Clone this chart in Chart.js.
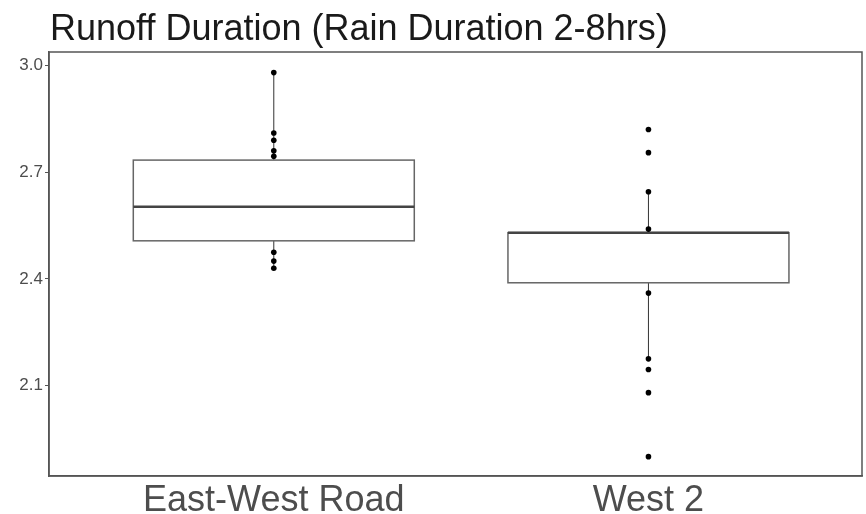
<!DOCTYPE html>
<html>
<head>
<meta charset="utf-8">
<script src="https://cdn.jsdelivr.net/npm/chart.js"></script>
<style>
html, body { margin: 0; padding: 0; background: #fff; }
</style>
</head>
<body>
<canvas id="myChart" width="866" height="514"></canvas>
<script>
const categories = ['East-West Road', 'West 2'];
const yTicks = [2.1, 2.4, 2.7, 3.0];

// raw points per group
const ewPoints = [2.98, 2.81, 2.79, 2.76, 2.745, 2.475, 2.45, 2.43];
const w2Points = [2.82, 2.755, 2.645, 2.54, 2.36, 2.175, 2.145, 2.08, 1.90];

// box stats per group
const whiskerLow = [2.43, 2.175];
const q1 = [2.507, 2.389];
const median = [2.603, 2.530];
const q3 = [2.734, 2.530];
const whiskerHigh = [2.98, 2.645];

const ctx = document.getElementById('myChart');

const boxPlugin = {
  id: 'boxes',
  beforeDatasetsDraw(chart) {
    const c = chart.ctx;
    const xs = chart.scales.x, ys = chart.scales.y;
    categories.forEach((cat, i) => {
      const xc = xs.getPixelForValue(i + 1);
      const half = (xs.getPixelForValue(1.375) - xs.getPixelForValue(1));
      c.save();
      // whiskers
      c.strokeStyle = '#333';
      c.lineWidth = 1;
      c.beginPath();
      c.moveTo(xc, ys.getPixelForValue(whiskerHigh[i]));
      c.lineTo(xc, ys.getPixelForValue(q3[i]));
      c.moveTo(xc, ys.getPixelForValue(q1[i]));
      c.lineTo(xc, ys.getPixelForValue(whiskerLow[i]));
      c.stroke();
      // box
      const top = ys.getPixelForValue(q3[i]);
      const bot = ys.getPixelForValue(q1[i]);
      c.fillStyle = '#fff';
      c.fillRect(xc - half, top, half * 2, bot - top);
      c.strokeStyle = '#666';
      c.lineWidth = 1.5;
      c.strokeRect(xc - half, top, half * 2, bot - top);
      // median
      c.strokeStyle = '#444';
      c.lineWidth = 2.5;
      c.beginPath();
      c.moveTo(xc - half, ys.getPixelForValue(median[i]));
      c.lineTo(xc + half, ys.getPixelForValue(median[i]));
      c.stroke();
      c.restore();
    });
  },
  afterDraw(chart) {
    const c = chart.ctx;
    const a = chart.chartArea;
    c.save();
    c.strokeStyle = '#555';
    c.lineWidth = 1.5;
    c.strokeRect(a.left, a.top, a.right - a.left, a.bottom - a.top);
    c.fillStyle = '#1a1a1a';
    c.font = '36px "Liberation Sans", Arial, sans-serif';
    c.textBaseline = 'alphabetic';
    c.fillText('Runoff Duration (Rain Duration 2-8hrs)', 50, 40);
    c.restore();
  }
};

new Chart(ctx, {
  type: 'scatter',
  data: {
    datasets: [
      { label: categories[0], data: ewPoints.map(v => ({ x: 1, y: v })) },
      { label: categories[1], data: w2Points.map(v => ({ x: 2, y: v })) }
    ]
  },
  options: {
    responsive: false,
    animation: false,
    layout: { padding: { top: 52, right: 4, left: 0, bottom: 0 } },
    elements: {
      point: { radius: 2.8, backgroundColor: '#000', borderColor: '#000', borderWidth: 0 }
    },
    plugins: {
      legend: { display: false },
      tooltip: { enabled: false }
    },
    scales: {
      x: {
        type: 'linear',
        min: 0.4,
        max: 2.57,
        afterBuildTicks: s => { s.ticks = categories.map((c, i) => ({ value: i + 1 })); },
        afterFit: s => { s.height = 38; },
        ticks: {
          callback: v => categories[v - 1],
          font: { family: '"Liberation Sans", Arial, sans-serif', size: 36, lineHeight: 1 },
          color: '#4d4d4d',
          padding: -1,
          maxRotation: 0
        },
        grid: { display: false },
        border: { display: true, color: '#555', width: 1.5 }
      },
      y: {
        min: 1.8456,
        max: 3.038,
        afterBuildTicks: s => { s.ticks = yTicks.map(v => ({ value: v })); },
        afterFit: s => { s.width = 49; },
        ticks: {
          callback: v => v.toFixed(1),
          font: { family: '"Liberation Sans", Arial, sans-serif', size: 17 },
          color: '#4d4d4d',
          padding: 2
        },
        grid: { drawOnChartArea: false, drawTicks: true, tickLength: 4, color: '#555' },
        border: { display: true, color: '#555', width: 1.5 }
      }
    }
  },
  plugins: [boxPlugin]
});
</script>
</body>
</html>
